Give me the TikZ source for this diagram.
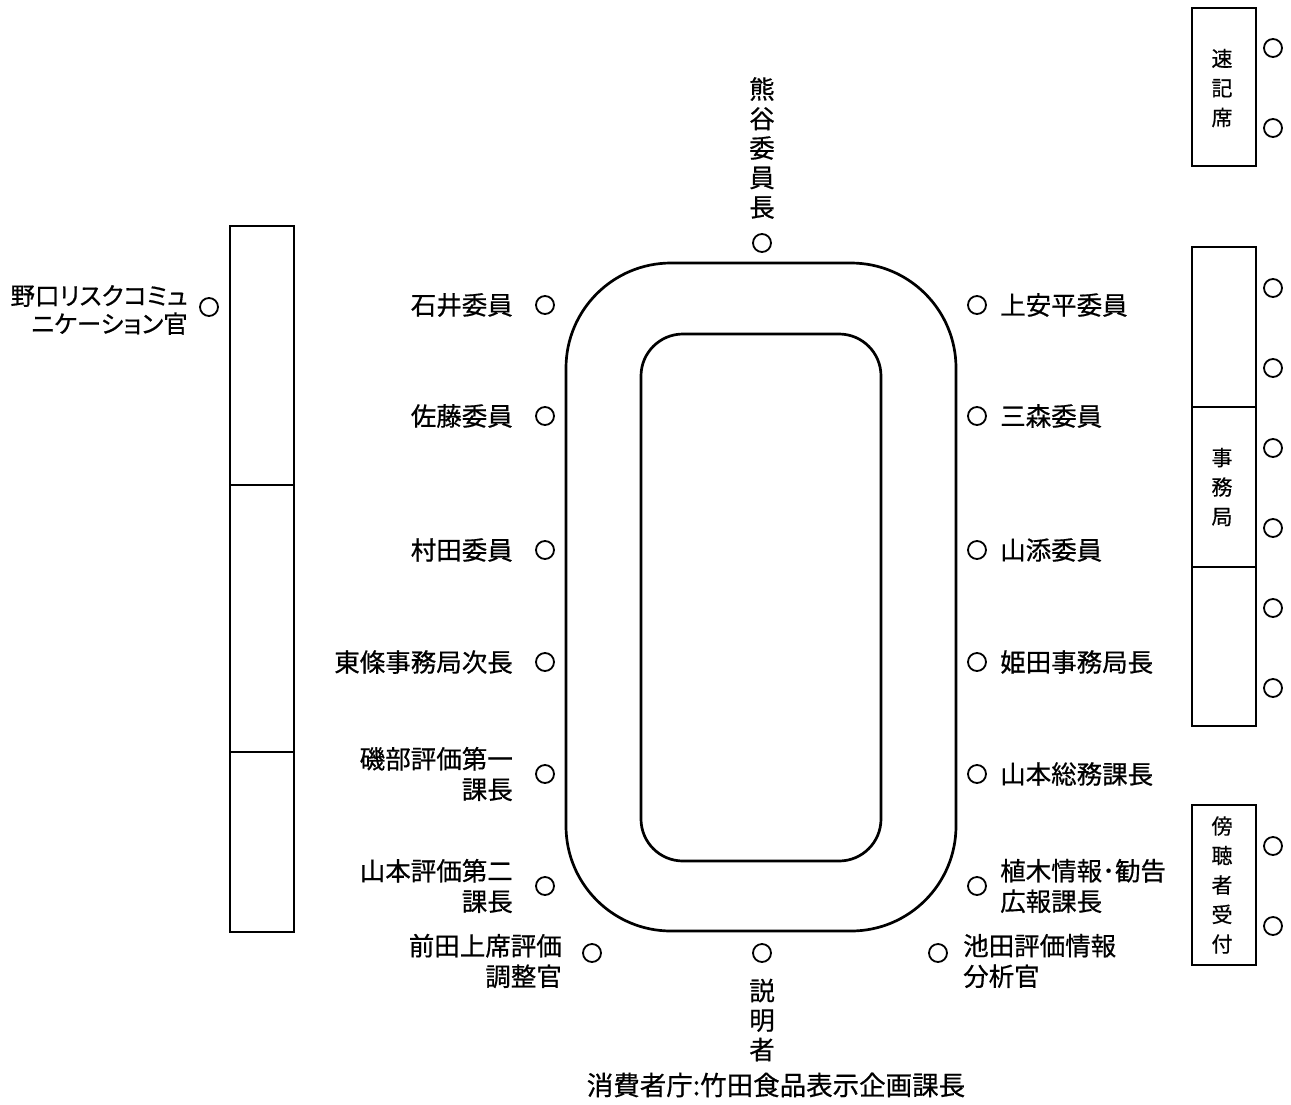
\documentclass[tikz,border=0pt]{standalone}
\usepackage{fontspec}
\setmainfont{Noto Sans CJK JP}[FakeBold=0.6]
\newfontfamily\propfont{Noto Sans CJK JP}[FakeBold=0.6,RawFeature=+palt]
\begin{document}
\begin{tikzpicture}[x=1pt,y=-1pt,
  seat/.style={circle,draw,line width=1.8pt,minimum size=18pt,inner sep=0pt},
  lbl/.style={inner sep=0pt,font=\fontsize{25.5}{30.5}\selectfont},
  rlbl/.style={lbl,anchor=east,align=right},
  llbl/.style={lbl,anchor=west,align=left},
  vlbl/.style={lbl,align=center,font=\fontsize{25.5}{29.5}\selectfont},
  blbl/.style={inner sep=0pt,align=center,font=\fontsize{21}{29.5}\selectfont},
  tbl/.style={line width=2.7pt},
  bx/.style={line width=2.4pt}]
\useasboundingbox (0,0) rectangle (1291,1104);
% table
\draw[tbl,rounded corners=105pt] (566,263) rectangle (956,931);
\draw[tbl,rounded corners=42pt] (641,334) rectangle (881,861);
% left box
\draw[bx] (230,226) rectangle (294,932);
\draw[bx] (230,485) -- (294,485);
\draw[bx] (230,752) -- (294,752);
% right boxes
\draw[bx] (1192,8) rectangle (1256,166);
\draw[bx] (1192,247) rectangle (1256,726);
\draw[bx] (1192,407) -- (1256,407);
\draw[bx] (1192,567) -- (1256,567);
\draw[bx] (1192,805) rectangle (1256,965);
\node[blbl] (sokki) at (1222,88) {速\\記\\席};
\node[blbl] (jimu) at (1222,487) {事\\務\\局};
\node[blbl] (bocho) at (1222,885) {傍\\聴\\者\\受\\付};
% right side seats
\foreach \y [count=\i] in {48,128,288,368,448,528,608,688,846,926}
  \node[seat] (r\i) at (1273,\y) {};
% chair
\node[vlbl] (kumagai) at (762,148) {熊\\谷\\委\\員\\長};
\node[seat] (s0) at (762,243) {};
% left seats
\node[seat] (l1) at (545,305) {};
\node[seat] (l2) at (545,416) {};
\node[seat] (l3) at (545,550) {};
\node[seat] (l4) at (545,662) {};
\node[seat] (l5) at (545,774) {};
\node[seat] (l6) at (545,886) {};
\node[rlbl] (t1) at (513,305) {石井委員};
\node[rlbl] (t2) at (513,416) {佐藤委員};
\node[rlbl] (t3) at (513,550) {村田委員};
\node[rlbl] (t4) at (513,662) {東條事務局次長};
\node[rlbl] (t5) at (513,774) {磯部評価第一\\課長};
\node[rlbl] (t6) at (513,886) {山本評価第二\\課長};
% right seats
\node[seat] (m1) at (977,305) {};
\node[seat] (m2) at (977,416) {};
\node[seat] (m3) at (977,550) {};
\node[seat] (m4) at (977,662) {};
\node[seat] (m5) at (977,774) {};
\node[seat] (m6) at (977,886) {};
\node[llbl] (u1) at (1000,305) {上安平委員};
\node[llbl] (u2) at (1000,416) {三森委員};
\node[llbl] (u3) at (1000,550) {山添委員};
\node[llbl] (u4) at (1000,662) {姫田事務局長};
\node[llbl] (u5) at (1000,774) {山本総務課長};
\node[llbl] (u6) at (1000,886) {植木情報･勧告\\広報課長};
% bottom
\node[seat] (b1) at (592,953) {};
\node[seat] (b2) at (762,953) {};
\node[seat] (b3) at (938,953) {};
\node[rlbl] (maeda) at (562,961) {前田上席評価\\調整官};
\node[llbl] (ikeda) at (963,961) {池田評価情報\\分析官};
\node[vlbl] (setsu) at (762,1020) {説\\明\\者};
\node[lbl] (shohi) at (776,1085) {\fontsize{26.5}{30}\selectfont 消費者庁:竹田食品表示企画課長};
% far left
\node[seat] (n1) at (209,307) {};
\node[rlbl,font=\propfont\fontsize{24.5}{28}\selectfont] (noguchi) at (188,310) {野口リスクコミュ\\ニケーション官};
\end{tikzpicture}
\end{document}
